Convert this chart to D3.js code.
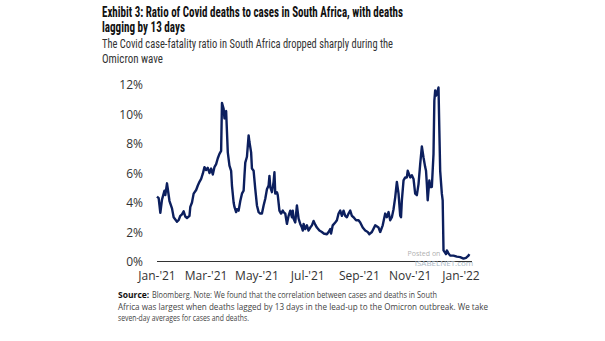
<!DOCTYPE html>
<html>
<head>
<meta charset="utf-8">
<script src="https://cdn.jsdelivr.net/npm/d3@7"></script>
<style>
  body { margin: 0; background: #fff; }
  svg { display: block; }
</style>
</head>
<body>
<svg id="chart" width="605" height="341"></svg>
<script>
// days after 1 Jan 2021
var days = [0, 2, 4, 6, 8, 9, 10, 12, 13, 15, 18, 20, 24, 26, 28, 30, 32, 34, 36, 39,
  40, 42, 44, 47, 49, 51, 53, 55, 57, 59, 61, 63, 65, 67, 69, 71, 73, 75, 77, 78,
  80, 81, 82, 83, 84, 85, 87, 89, 90, 92, 93, 95, 96, 98, 100, 102, 104, 105, 106, 108,
  110, 111, 113, 114, 116, 118, 120, 122, 124, 126, 128, 130, 132, 134, 135, 136, 138, 140, 141, 142,
  144, 145, 147, 149, 151, 152, 154, 156, 158, 160, 162, 163, 164, 166, 168, 170, 172, 174, 175, 176,
  178, 180, 182, 184, 186, 188, 190, 192, 195, 198, 200, 204, 206, 208, 209, 211, 214, 216, 218, 220,
  222, 224, 226, 228, 230, 232, 234, 236, 239, 242, 244, 247, 250, 253, 255, 258, 262, 266, 268, 271,
  274, 276, 278, 280, 282, 284, 286, 288, 290, 292, 293, 294, 296, 298, 300, 301, 304, 306, 308, 310,
  312, 314, 316, 318, 320, 322, 323, 324, 325, 327, 328, 330, 332, 333, 334, 335, 336, 338, 339, 340,
  342, 343, 344, 347, 348, 350, 352, 356, 360, 364, 368, 371, 374, 375];

// case-fatality ratio, %
var ratio = [4.4, 4.3, 3.3, 4.2, 4.6, 4.8, 4.5, 5.3, 4.9, 4.1, 3.6, 3.0, 2.7, 2.8, 3.1, 3.2, 3.4, 3.05, 2.95, 3.1,
  3.7, 4.0, 4.6, 4.85, 5.15, 5.4, 5.6, 5.95, 6.4, 6.2, 6.35, 6.0, 6.3, 5.9, 6.4, 6.6, 7.0, 7.3, 7.5, 10.75,
  10.35, 9.7, 10.1, 10.2, 8.8, 7.4, 6.5, 6.15, 5.15, 4.0, 3.7, 3.35, 3.55, 3.45, 4.1, 4.6, 4.8, 5.8, 6.7, 7.1,
  8.55, 8.1, 7.4, 6.3, 6.15, 4.9, 3.8, 3.35, 3.25, 3.25, 3.8, 4.25, 4.9, 5.15, 5.8, 5.05, 4.7, 5.4, 6.05, 4.6,
  4.7, 4.5, 3.45, 3.25, 3.45, 3.35, 3.25, 2.55, 3.1, 3.45, 3.0, 3.45, 2.9, 2.65, 3.8, 2.9, 2.55, 2.3, 2.1, 2.55,
  2.2, 2.45, 2.1, 2.3, 2.45, 2.75, 2.5, 2.3, 2.1, 2.0, 1.9, 1.85, 2.0, 2.2, 1.9, 2.45, 2.65, 2.8, 3.25, 3.45,
  3.1, 3.45, 3.1, 3.0, 3.25, 3.45, 3.1, 3.0, 2.8, 2.8, 2.65, 2.3, 2.1, 2.0, 1.85, 2.0, 2.45, 2.3, 2.0, 2.45,
  3.25, 3.0, 3.35, 2.8, 3.0, 3.55, 4.35, 5.4, 4.6, 3.1, 3.0, 4.15, 5.5, 5.7, 5.7, 6.15, 5.7, 5.85, 5.6, 4.6,
  4.5, 5.25, 6.6, 7.8, 7.05, 6.4, 6.15, 5.25, 4.15, 5.5, 5.05, 5.05, 7.3, 10.9, 11.6, 11.25, 11.35, 11.8, 8.9, 6.15,
  4.6, 4.15, 0.75, 0.5, 0.75, 0.55, 0.4, 0.4, 0.33, 0.3, 0.2, 0.25, 0.4, 0.5];

var yTicks = [0, 2, 4, 6, 8, 10, 12];
var xTickLabels = ["Jan-'21", "Mar-'21", "May-'21", "Jul-'21", "Sep-'21", "Nov-'21", "Jan-'22"];
var xTickDates = ["2021-01-01", "2021-03-01", "2021-05-01", "2021-07-01", "2021-09-01", "2021-11-01", "2022-01-01"];

var titleLines = ["Exhibit 3: Ratio of Covid deaths to cases in South Africa, with deaths", "lagging by 13 days"];
var subLines = ["The Covid case-fatality ratio in South Africa dropped sharply during the", "Omicron wave"];
var noteLines = [
  "Bloomberg. Note: We found that the correlation between cases  and deaths in South",
  "Africa was largest when deaths lagged by 13 days in the lead-up to the Omicron outbreak. We take",
  "seven-day averages for cases and deaths."
];

var parse = d3.timeParse("%Y-%m-%d");
var start = parse("2021-01-01");
var data = days.map(function(d, i) {
  return { date: d3.timeDay.offset(start, d), v: ratio[i] };
});

var svg = d3.select("#chart");
var narrow = "'Liberation Sans Narrow', 'Roboto Condensed', 'Arial Narrow', sans-serif";
var light = "'Open Sans', 'Noto Sans', sans-serif";

// title
svg.selectAll(".title").data(titleLines).enter().append("text")
  .attr("x", 102).attr("y", function(d, i) { return 17 + i * 15; })
  .attr("font-family", narrow).attr("font-weight", "bold").attr("font-size", 14)
  .attr("fill", "#111")
  .attr("textLength", function(d, i) { return i == 0 ? 301 : 83; })
  .attr("lengthAdjust", "spacingAndGlyphs")
  .text(function(d) { return d; });

svg.selectAll(".sub").data(subLines).enter().append("text")
  .attr("x", 102).attr("y", function(d, i) { return 48 + i * 14.5; })
  .attr("font-family", narrow).attr("font-size", 13)
  .attr("fill", "#333")
  .attr("textLength", function(d, i) { return i == 0 ? 291 : 61; })
  .attr("lengthAdjust", "spacingAndGlyphs")
  .text(function(d) { return d; });

var x = d3.scaleTime()
  .domain([parse("2021-01-01"), parse("2022-01-01")])
  .range([157, 461]);

var y = d3.scaleLinear()
  .domain([0, 12])
  .range([261.5, 84.5]);

// y labels
svg.selectAll(".ylab").data(yTicks).enter().append("text")
  .attr("x", 143).attr("y", function(d) { return y(d) + 4.5; })
  .attr("text-anchor", "end")
  .attr("font-family", light).attr("font-size", 12).attr("fill", "#333")
  .text(function(d) { return d + "%"; });

// x labels
svg.selectAll(".xlab").data(xTickDates).enter().append("text")
  .attr("x", function(d) { return x(parse(d)); })
  .attr("y", 280)
  .attr("text-anchor", "middle")
  .attr("font-family", light).attr("font-size", 12).attr("fill", "#333")
  .text(function(d, i) { return xTickLabels[i]; });

// baseline
svg.append("line")
  .attr("x1", 157).attr("x2", 472)
  .attr("y1", y(0)).attr("y2", y(0))
  .attr("stroke", "#333").attr("stroke-width", 1.2);

// watermark
svg.append("text").attr("x", 424).attr("y", 256)
  .attr("text-anchor", "middle").attr("font-family", light).attr("font-size", 7)
  .attr("fill", "#b0b0b0").text("Posted on");
svg.append("text").attr("x", 444).attr("y", 266)
  .attr("text-anchor", "middle").attr("font-family", light).attr("font-size", 8)
  .attr("fill", "#a9b8c6").text("ISABELNET.com");

var line = d3.line()
  .x(function(d) { return x(d.date); })
  .y(function(d) { return y(d.v); });

svg.append("path")
  .datum(data)
  .attr("d", line)
  .attr("fill", "none")
  .attr("stroke", "#0c1f5e")
  .attr("stroke-width", 2.4)
  .attr("stroke-linejoin", "round");

// source note
var note = svg.append("g").attr("font-family", light).attr("font-size", 8.5).attr("fill", "#444");
note.append("text").attr("x", 118).attr("y", 298)
  .attr("font-weight", "bold").attr("fill", "#111").text("Source:");
note.append("text").attr("x", 152).attr("y", 298)
  .attr("textLength", 285).attr("lengthAdjust", "spacingAndGlyphs").text(noteLines[0]);
note.append("text").attr("x", 118).attr("y", 310)
  .attr("textLength", 370).attr("lengthAdjust", "spacingAndGlyphs").text(noteLines[1]);
note.append("text").attr("x", 118).attr("y", 321)
  .attr("textLength", 131).attr("lengthAdjust", "spacingAndGlyphs").text(noteLines[2]);
</script>
</body>
</html>
